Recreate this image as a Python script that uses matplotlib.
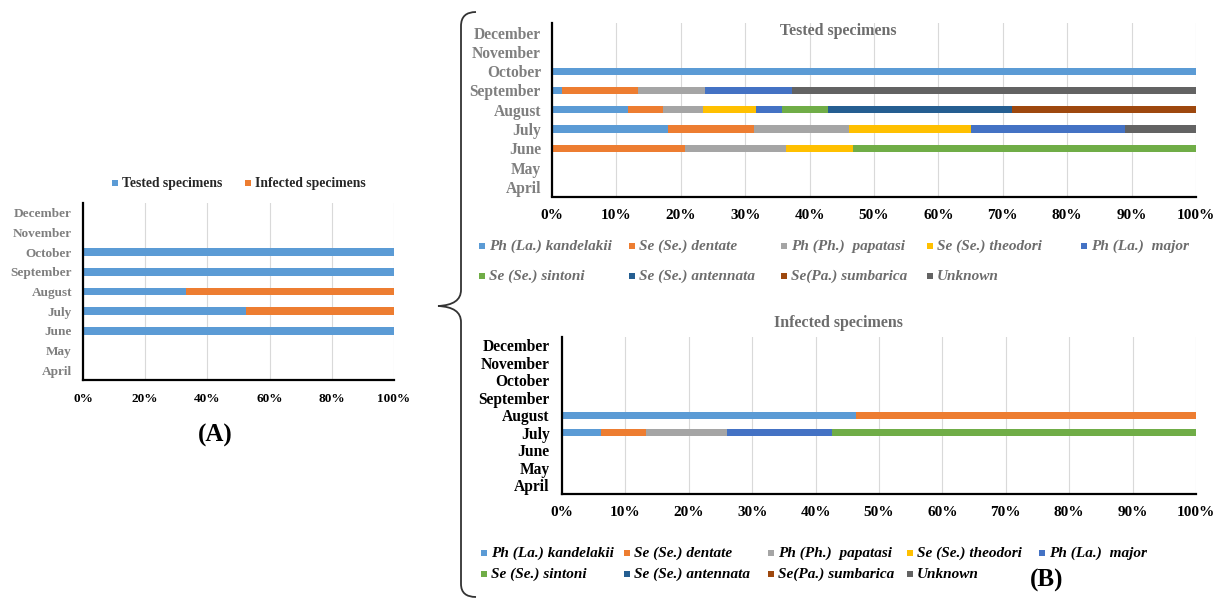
import numpy as np
import matplotlib
matplotlib.use("Agg")
import matplotlib.pyplot as plt
from matplotlib.patches import Rectangle, PathPatch
from matplotlib.path import Path

plt.rcParams['font.family'] = ['Liberation Serif', 'DejaVu Serif']
plt.rcParams['font.weight'] = 'bold'

months = ['April', 'May', 'June', 'July', 'August', 'September',
          'October', 'November', 'December']

# panel A: share of tested vs infected specimens per month (%)
share_tested = [0, 0, 100, 52.5, 33, 100, 100, 0, 0]
share_infected = [0, 0, 0, 47.5, 67, 0, 0, 0, 0]

species = ['Ph (La.) kandelakii', 'Se (Se.) dentate', 'Ph (Ph.)  papatasi',
           'Se (Se.) theodori', 'Ph (La.)  major', 'Se (Se.) sintoni',
           'Se (Se.) antennata', 'Se(Pa.) sumbarica', 'Unknown']
colors = ['#5B9BD5', '#ED7D31', '#A5A5A5', '#FFC000', '#4472C4',
          '#70AD47', '#255E91', '#9E480E', '#636363']

# panel B: species composition per month (%), rows = species, cols = months
tested_species = np.array([
    [0, 0, 0,    18.0, 11.8, 1.5,  100, 0, 0],
    [0, 0, 20.6, 13.3, 5.4,  11.8, 0,   0, 0],
    [0, 0, 15.8, 14.8, 6.3,  10.5, 0,   0, 0],
    [0, 0, 10.3, 19.0, 8.1,  0,    0,   0, 0],
    [0, 0, 0,    23.9, 4.1,  13.4, 0,   0, 0],
    [0, 0, 53.3, 0,    7.2,  0,    0,   0, 0],
    [0, 0, 0,    0,    28.5, 0,    0,   0, 0],
    [0, 0, 0,    0,    28.6, 0,    0,   0, 0],
    [0, 0, 0,    11.0, 0,    62.8, 0,   0, 0],
])
infected_species = np.array([
    [0, 0, 0, 6.2,  46.3, 0, 0, 0, 0],
    [0, 0, 0, 7.1,  53.7, 0, 0, 0, 0],
    [0, 0, 0, 12.8, 0,    0, 0, 0, 0],
    [0, 0, 0, 0,    0,    0, 0, 0, 0],
    [0, 0, 0, 16.5, 0,    0, 0, 0, 0],
    [0, 0, 0, 57.4, 0,    0, 0, 0, 0],
    [0, 0, 0, 0,    0,    0, 0, 0, 0],
    [0, 0, 0, 0,    0,    0, 0, 0, 0],
    [0, 0, 0, 0,    0,    0, 0, 0, 0],
])

W, H = 1218, 599
fig = plt.figure(figsize=(W / 100, H / 100), dpi=100)

# overlay in pixel coordinates for brace, titles and legends
ov = fig.add_axes([0, 0, 1, 1], zorder=10)
ov.set_xlim(0, W)
ov.set_ylim(H, 0)
ov.axis('off')


def px_axes(left, top, right, bottom):
    return fig.add_axes([left / W, 1 - bottom / H, (right - left) / W, (bottom - top) / H])


def style_axes(ax, ticks, month_color, xsize, ysize, ypad):
    ax.set_xlim(0, 100)
    ax.set_ylim(-0.5, len(months) - 0.5)
    ax.set_xticks(ticks)
    ax.set_xticklabels(['%d%%' % t for t in ticks])
    ax.set_yticks(range(len(months)))
    ax.set_yticklabels(months)
    ax.tick_params(axis='x', length=0, pad=9, labelsize=xsize, colors='black')
    ax.tick_params(axis='y', length=0, pad=ypad, labelsize=ysize, labelcolor=month_color)
    for t in ax.get_xticklabels() + ax.get_yticklabels():
        t.set_fontweight('bold')
    for s in ['top', 'right']:
        ax.spines[s].set_visible(False)
    for s in ['left', 'bottom']:
        ax.spines[s].set_linewidth(1.6)
        ax.spines[s].set_color('black')
    ax.grid(axis='x', color='#D9D9D9', lw=0.8)
    ax.set_axisbelow(True)


def stacked(ax, data, height):
    y = np.arange(len(months))
    left = np.zeros(len(months))
    for row, c in zip(data, colors):
        ax.barh(y, row, left=left, height=height, color=c, lw=0)
        left += row


def legend_item(x, y, color, label, size, tcolor, style='italic'):
    ov.add_patch(Rectangle((x - 3, y - 3), 6, 6, color=color, lw=0))
    ov.text(x + 7, y, label, va='center', ha='left', fontsize=size,
            color=tcolor, style=style, fontweight='bold')


# ---- panel A
axA = px_axes(83, 203, 394, 380)
axA.barh(range(len(months)), share_tested, height=0.38, color='#5B9BD5', lw=0)
axA.barh(range(len(months)), share_infected, left=share_tested, height=0.38,
         color='#ED7D31', lw=0)
style_axes(axA, [0, 20, 40, 60, 80, 100], '#7F7F7F', 9.5, 9.5, 8)
legend_item(115, 183, '#5B9BD5', 'Tested specimens', 9.8, '#262626', style='normal')
legend_item(248, 183, '#ED7D31', 'Infected specimens', 9.8, '#262626', style='normal')
ov.text(215, 435, '(A)', ha='center', va='center', fontsize=18, fontweight='bold')

# ---- panel B, tested
axB1 = px_axes(552, 23, 1196, 196.5)
stacked(axB1, tested_species, 0.38)
style_axes(axB1, range(0, 101, 10), '#7F7F7F', 11, 11.2, 8)
ov.text(838, 31, 'Tested specimens', ha='center', va='center', fontsize=11.5,
        color='#6D6D6D', fontweight='bold')

cols_top = [482, 632, 784, 930, 1084]
for i, (lab, c) in enumerate(zip(species, colors)):
    x = cols_top[i % 5]
    y = 246 if i < 5 else 276
    legend_item(x, y, c, lab, 11, '#6D6D6D')

# ---- panel B, infected
axB2 = px_axes(562, 336.5, 1196, 494)
stacked(axB2, infected_species, 0.38)
style_axes(axB2, range(0, 101, 10), 'black', 11, 11.2, 9)
ov.text(838, 323, 'Infected specimens', ha='center', va='center', fontsize=11.5,
        color='#6D6D6D', fontweight='bold')

cols_bot = [484, 627, 771, 910, 1042]
for i, (lab, c) in enumerate(zip(species, colors)):
    x = cols_bot[i % 5]
    y = 553 if i < 5 else 574
    legend_item(x, y, c, lab, 11, 'black')

ov.text(1047, 580, '(B)', ha='center', va='center', fontsize=18, fontweight='bold')

# curly brace joining the two B charts
verts = [(476, 12), (461, 12), (461, 26),
         (461, 290),
         (461, 305), (438, 306),
         (461, 307), (461, 322),
         (461, 584),
         (461, 597), (476, 597)]
codes = [Path.MOVETO, Path.CURVE3, Path.CURVE3,
         Path.LINETO,
         Path.CURVE3, Path.CURVE3,
         Path.CURVE3, Path.CURVE3,
         Path.LINETO,
         Path.CURVE3, Path.CURVE3]
ov.add_patch(PathPatch(Path(verts, codes), fill=False, lw=1.3, color='#333333'))

fig.savefig('out.png', dpi=100)
